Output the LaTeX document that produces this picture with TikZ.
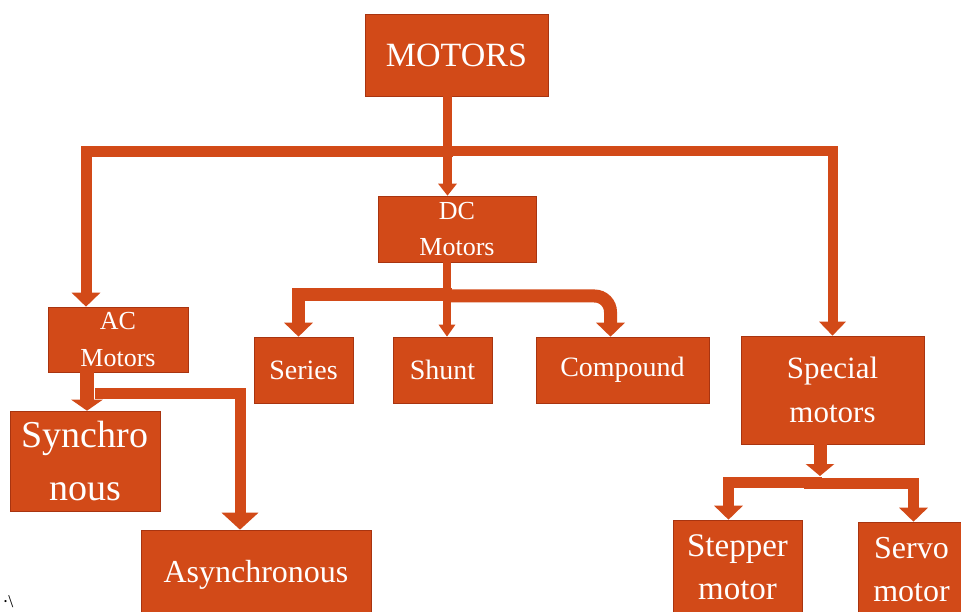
\documentclass[tikz,border=0pt]{standalone}
\usepackage{fontspec}
\setmainfont{Liberation Serif}
\usepackage{xcolor}
\definecolor{motororange}{RGB}{210, 74, 24}
\definecolor{motoredge}{RGB}{168, 52, 16}
\usetikzlibrary{arrows.meta, calc}

\begin{document}
\begin{tikzpicture}[x=1pt, y=-1pt,
    box/.style={draw=motoredge, line width=0.6pt, fill=motororange, text=white, inner sep=0pt, align=center},
    flow/.style args={#1/#2/#3}{draw=motororange, line width=#1, -{Triangle[width=#2, length=#3]}}]
    \useasboundingbox (0,0) rectangle (961,612);

    \node[box, minimum width=183pt, minimum height=82pt, font=\fontsize{34}{38}\selectfont] (motors) at (456.5,55) {MOTORS};
    \node[box, minimum width=158pt, minimum height=66pt, font=\fontsize{26}{36}\selectfont] (dc) at (457,229) {DC\\Motors};
    \node[box, minimum width=140pt, minimum height=65pt, font=\fontsize{26}{37}\selectfont] (ac) at (118,339.5) {AC\\Motors};
    \node[box, minimum width=99pt, minimum height=66pt, font=\fontsize{28}{34}\selectfont] (series) at (303.5,370) {Series};
    \node[box, minimum width=99pt, minimum height=66pt, font=\fontsize{28}{34}\selectfont] (shunt) at (442.5,370) {Shunt};
    \node[box, minimum width=173pt, minimum height=66pt, font=\fontsize{28}{34}\selectfont] (compound) at (622.5,370) {Compound};
    \node[box, minimum width=183pt, minimum height=108pt, font=\fontsize{31}{44}\selectfont] (special) at (832.5,390) {Special\\motors};
    \node[box, minimum width=150pt, minimum height=100pt, font=\fontsize{38}{53}\selectfont] (synchro) at (85,461) {Synchro\\nous};
    \node[box, minimum width=230pt, minimum height=90pt, font=\fontsize{32}{40}\selectfont] (async) at (256,575) {Asynchronous};
    \node[box, minimum width=129pt, minimum height=95pt, font=\fontsize{33}{43}\selectfont] (stepper) at (737.5,567.5) {Stepper\\motor};
    \node[box, minimum width=107pt, minimum height=95pt, font=\fontsize{32}{43}\selectfont] (servo) at (911.5,569.5) {Servo\\motor};
    \node[font=\fontsize{18}{20}\selectfont, inner sep=0pt] (stray) at (8,602) {·\textbackslash};

    \coordinate (topleft) at (453,152);
    \coordinate (topright) at (403,151);
    \coordinate (dcleft) at (452,295);
    \coordinate (dcright) at (447,296);
    \coordinate (acright) at (95,393);
    \coordinate (spjoin) at (820,476);
    \coordinate (spleft) at (822,482);
    \coordinate (spright) at (804,483);

    \draw[flow=11pt/28pt/14pt] (topleft) -| ([xshift=-32pt]ac.north);
    \draw[flow=9pt/18pt/12pt] ([xshift=-9pt]motors.south) -- ([xshift=-9pt]motors.south |- dc.north);
    \draw[flow=10pt/26pt/14pt] (topright) -| (special.north);

    \draw[flow=13pt/28pt/14pt] (dcleft) -| ([xshift=-5pt]series.north);
    \draw[flow=8pt/16pt/12pt] ([xshift=-10pt]dc.south) -- ([xshift=-10pt]dc.south |- shunt.north);
    \draw[flow=13pt/28pt/14pt, rounded corners=16pt] (dcright) -| ([xshift=-12pt]compound.north);

    \draw[flow=14pt/31pt/11pt] ([xshift=-31pt]ac.south) -- ([xshift=-31pt]ac.south |- synchro.north);
    \draw[flow=11pt/36pt/17pt] (acright) -| ([xshift=-16pt]async.north);

    \draw[flow=13pt/28pt/12pt] (special.south -| spjoin) -- (spjoin);
    \draw[flow=11pt/28pt/14pt] (spleft) -| ([xshift=-9pt]stepper.north);
    \draw[flow=11pt/28pt/14pt] (spright) -| ([xshift=2pt]servo.north);
\end{tikzpicture}
\end{document}
